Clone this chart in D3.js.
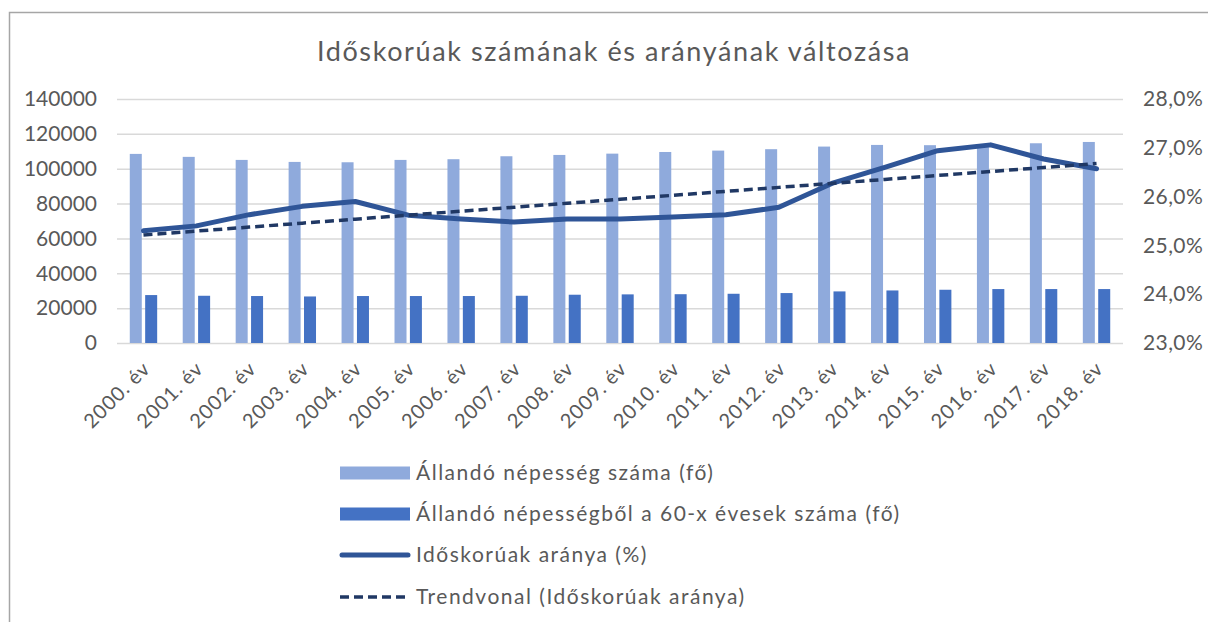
<!DOCTYPE html>
<html>
<head>
<meta charset="utf-8">
<script src="https://cdn.jsdelivr.net/npm/d3@7"></script>
<style>
  html, body { margin: 0; padding: 0; background: #fff; }
  svg { display: block; }
  text { font-family: Lato, "Noto Sans", sans-serif; fill: #595959; }
</style>
</head>
<body>
<svg id="chart" width="1208" height="622"></svg>
<script>
const title = "Időskorúak számának és arányának változása";
const years = ["2000. év","2001. év","2002. év","2003. év","2004. év","2005. év","2006. év","2007. év","2008. év","2009. év","2010. év","2011. év","2012. év","2013. év","2014. év","2015. év","2016. év","2017. év","2018. év"];
const population = [108500,106800,105050,103900,103700,105050,105450,107150,107900,108650,109600,110400,111200,112700,113650,113500,114000,114600,115350];
const elderly = [27500,27100,26950,26700,26950,26950,26950,27100,27700,27900,28000,28250,28650,29600,30150,30550,30950,30950,30950];
const ratio = [25.30,25.40,25.63,25.80,25.90,25.62,25.54,25.48,25.54,25.54,25.58,25.63,25.78,26.27,26.60,26.94,27.06,26.77,26.57];
const leftTicks = [0,20000,40000,60000,80000,100000,120000,140000];
const rightTicks = [23,24,25,26,27,28];
const legendLabels = ["Állandó népesség száma (fő)","Állandó népességből a 60-x évesek száma (fő)","Időskorúak aránya (%)","Trendvonal (Időskorúak aránya)"];

const svg = d3.select("#chart");
const L = 117, R = 1123, T = 99, B = 343;
const FONT = "Lato, 'Noto Sans', sans-serif";

// frame
svg.append("rect").attr("x", 9.5).attr("y", 12.5).attr("width", 1250).attr("height", 700)
  .attr("fill", "#fff").attr("stroke", "#a6a6a6").attr("stroke-width", 1.5);

svg.append("text").attr("x", 614).attr("y", 61).attr("text-anchor", "middle")
  .style("font-size", "27px").style("letter-spacing", "1.6px").text(title);

const x = d3.scaleBand().domain(years).range([L, R]).padding(0);
const xs = d3.scaleBand().domain([0, 1]).range([-13.7, 13.7]).paddingInner(0.22);
const yL = d3.scaleLinear().domain([0, 140000]).range([B, T]);
const yR = d3.scaleLinear().domain([23, 28]).range([B, T]);

// gridlines
const gridAxis = d3.axisLeft(yL).tickValues(leftTicks).tickSize(-(R - L)).tickFormat("");
const g = svg.append("g").attr("transform", `translate(${L},0)`).call(gridAxis);
g.select(".domain").remove();
g.selectAll("line").attr("stroke", "#d9d9d9").attr("stroke-width", 1.5);

// left axis labels
const la = svg.append("g").attr("transform", `translate(97,0)`)
  .call(d3.axisLeft(yL).tickValues(leftTicks).tickSize(0).tickPadding(0).tickFormat(d3.format("d")));
la.select(".domain").remove();
la.selectAll("text").style("font-size", "21px").attr("fill", "#595959").style("font-family", FONT);

// right axis labels
const pct = d => d.toFixed(1).replace(".", ",") + "%";
const ra = svg.append("g").attr("transform", `translate(1143,0)`)
  .call(d3.axisRight(yR).tickValues(rightTicks).tickSize(0).tickPadding(0).tickFormat(pct));
ra.select(".domain").remove();
ra.selectAll("text").style("font-size", "21px").style("letter-spacing", "0.4px").attr("fill", "#595959").style("font-family", FONT);

// bars
const colors = ["#8faadc", "#4472c4"];
[population, elderly].forEach((vals, si) => {
  svg.append("g").selectAll("rect").data(vals).join("rect")
    .attr("x", (d, i) => x(years[i]) + x.bandwidth() / 2 + xs(si))
    .attr("width", xs.bandwidth())
    .attr("y", d => yL(d))
    .attr("height", d => yL(0) - yL(d))
    .attr("fill", colors[si]);
});

// bottom x axis labels
const xa = svg.append("g").attr("transform", `translate(0,${B})`)
  .call(d3.axisBottom(x).tickSize(0).tickPadding(0));
xa.select(".domain").remove();
xa.selectAll("text")
  .style("font-size", "20px").style("letter-spacing", "0.9px").attr("fill", "#595959").style("font-family", FONT)
  .attr("text-anchor", "end")
  .attr("dy", "0")
  .attr("transform", "translate(8,27) rotate(-45)");

// trend (least squares of ratio)
const mx = d3.mean(ratio, (d, i) => i), my = d3.mean(ratio);
const slope = d3.sum(ratio, (d, i) => (i - mx) * (d - my)) / d3.sum(ratio, (d, i) => (i - mx) * (i - mx));
const trend = ratio.map((d, i) => my + slope * (i - mx));

const cx = i => x(years[i]) + x.bandwidth() / 2;
const line = d3.line().x((d, i) => cx(i)).y(d => yR(d));
svg.append("path").datum(ratio).attr("d", line).attr("fill", "none")
  .attr("stroke", "#2f5597").attr("stroke-width", 5).attr("stroke-linecap", "round").attr("stroke-linejoin", "round");
svg.append("path").datum(trend).attr("d", line).attr("fill", "none")
  .attr("stroke", "#203864").attr("stroke-width", 3.5).attr("stroke-dasharray", "9,5");

// legend
const lg = svg.append("g");
const ly = [473, 514, 555, 597];
const sx0 = 340, sx1 = 410;
lg.append("rect").attr("x", sx0).attr("y", ly[0] - 6.5).attr("width", sx1 - sx0).attr("height", 13).attr("fill", colors[0]);
lg.append("rect").attr("x", sx0).attr("y", ly[1] - 6.5).attr("width", sx1 - sx0).attr("height", 13).attr("fill", colors[1]);
lg.append("line").attr("x1", sx0 + 2).attr("x2", sx1 - 2).attr("y1", ly[2]).attr("y2", ly[2])
  .attr("stroke", "#2f5597").attr("stroke-width", 5).attr("stroke-linecap", "round");
lg.append("line").attr("x1", sx0).attr("x2", sx1).attr("y1", ly[3]).attr("y2", ly[3])
  .attr("stroke", "#203864").attr("stroke-width", 3.5).attr("stroke-dasharray", "9,5");
lg.selectAll("text.lt").data(legendLabels).join("text").attr("class", "lt")
  .attr("x", 416).attr("y", (d, i) => ly[i]).attr("dy", "0.35em")
  .style("font-size", "21px").style("letter-spacing", "1.5px").text(d => d);
</script>
</body>
</html>
